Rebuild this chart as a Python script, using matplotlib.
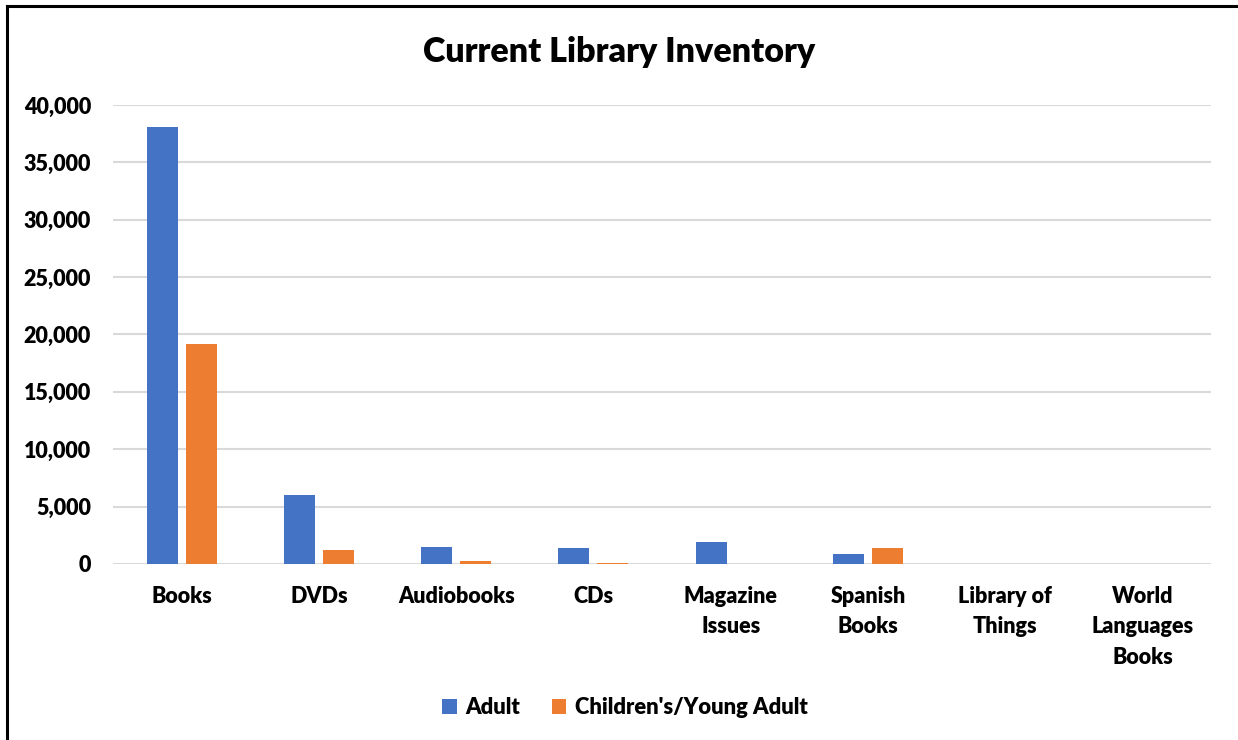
import numpy as np
import matplotlib
matplotlib.use('Agg')
from matplotlib import pyplot as plt
from matplotlib.lines import Line2D
from matplotlib.ticker import FuncFormatter

plt.rcParams['font.family'] = ['Lato', 'DejaVu Sans']
plt.rcParams['font.weight'] = 'heavy'

categories = ['Books', 'DVDs', 'Audiobooks', 'CDs', 'Magazine\nIssues',
              'Spanish\nBooks', 'Library of\nThings', 'World\nLanguages\nBooks']
adult = [38100, 6000, 1480, 1400, 1890, 900, 0, 0]
children = [19200, 1200, 290, 40, 0, 1370, 0, 0]
series_names = ['Adult', "Children's/Young Adult"]

fig = plt.figure(figsize=(12.38, 7.4), dpi=100)
ax = fig.add_axes([0.0913, 0.238, 0.887, 0.620])

x = np.arange(len(categories))
w = 0.226
ax.bar(x - 0.142, adult, w, color='#4472C4', label=series_names[0], zorder=3)
ax.bar(x + 0.142, children, w, color='#ED7D31', label=series_names[1], zorder=3)

ax.set_xlim(-0.5, len(categories) - 0.5)
ax.set_ylim(0, 40000)
ax.set_yticks(np.arange(0, 40001, 5000))
ax.yaxis.set_major_formatter(FuncFormatter(lambda v, p: '{:,.0f}'.format(v)))
ax.grid(axis='y', color='#D9D9D9', linewidth=1.5, zorder=0)
ax.set_axisbelow(True)
for s in ax.spines.values():
    s.set_visible(False)
ax.tick_params(axis='y', length=0, pad=16, labelsize=15.5)
ax.set_xticks(x)
ax.set_xticklabels(categories, fontsize=15.5, linespacing=1.55, va='top')
ax.tick_params(axis='x', length=0, pad=16)

fig.text(0.5, 0.930, 'Current Library Inventory', ha='center', va='center',
         fontsize=24.5, fontweight='heavy')

leg = fig.legend(loc='center', bbox_to_anchor=(0.505, 0.044), ncol=2, frameon=False,
                 fontsize=15.8, handlelength=0.65, handleheight=0.65, columnspacing=1.45,
                 handletextpad=0.4)

# chart border (left and top edges)
fig.add_artist(Line2D([7 / 1238, 7 / 1238], [0, 1 - 6 / 740], color='black', linewidth=2.2,
                      transform=fig.transFigure))
fig.add_artist(Line2D([7 / 1238, 1], [1 - 6 / 740, 1 - 6 / 740], color='black', linewidth=2.2,
                      transform=fig.transFigure))

fig.savefig('out.png', dpi=100)
